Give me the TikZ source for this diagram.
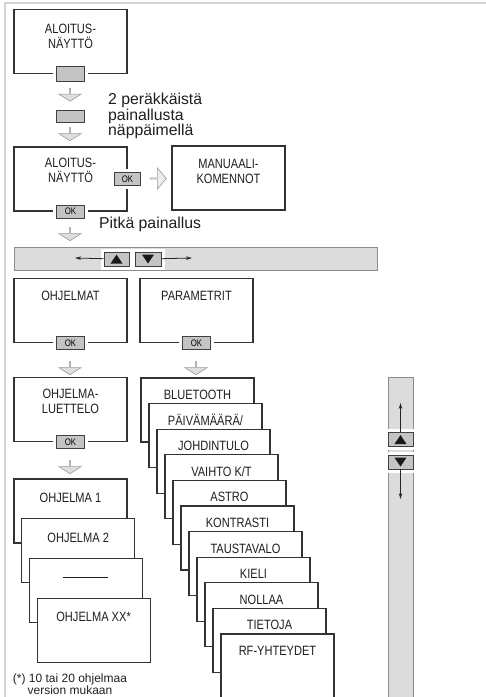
\documentclass[tikz,border=0pt]{standalone}
\usepackage{fontspec}
\setmainfont{Liberation Sans}
\newfontfamily\condfont[FakeStretch=0.82]{Liberation Sans}
\usetikzlibrary{shapes.arrows, arrows.meta, positioning, calc}

\definecolor{barfill}{HTML}{DCDCDD}
\definecolor{keyfill}{HTML}{C4C4C4}
\definecolor{edge}{HTML}{333333}
\definecolor{framegray}{HTML}{D4D4D4}

\begin{document}
\begin{tikzpicture}[x=1pt, y=-1pt,
  screen/.style={draw=edge, line width=1.1pt, fill=white, minimum width=113pt, minimum height=64pt, inner sep=0pt},
  lbl/.style={font=\condfont\fontsize{13.5}{15}\selectfont, align=center, inner sep=0pt, text=black!88, anchor=north},
  key/.style={draw=black!75, fill=keyfill, line width=0.8pt, minimum width=28pt, minimum height=13pt, inner sep=0pt,
    font=\condfont\fontsize{9.5}{9.5}\selectfont, preaction={draw=white, line width=7pt}},
  navkey/.style={key, minimum width=25pt, minimum height=14pt, preaction={draw=white, line width=5pt}},
  upkey/.style={navkey, path picture={\fill[black!90] ($(path picture bounding box.center)+(-6,4.5)$) -- ++(12,0) -- ++(-6,-9) -- cycle;}},
  downkey/.style={navkey, path picture={\fill[black!90] ($(path picture bounding box.center)+(-6,-4.5)$) -- ++(12,0) -- ++(-6,9) -- cycle;}},
  blockdown/.style={single arrow, draw=black!40, fill=black!13, line width=0.6pt, minimum width=22pt, minimum height=13pt,
    single arrow head extend=5pt, single arrow head indent=0pt, single arrow tip angle=115, inner sep=0pt, shape border rotate=270},
  blockright/.style={blockdown, fill=black!7, minimum width=21pt, minimum height=16pt, single arrow tip angle=100, shape border rotate=0},
  bar/.style={draw=black!45, fill=barfill, line width=0.8pt, inner sep=0pt},
  nav/.style={-{Stealth[length=6pt, width=3.5pt]}, line width=0.8pt, black!85},
  note/.style={font=\fontsize{15.8}{15.5}\selectfont, align=left, inner sep=0pt, text=black!88}]
\useasboundingbox (0,0) rectangle (486,697);

% frame of the page
\draw[framegray, line width=2pt] (5,697) -- (5,3) -- (486,3);

% start screen and double press
\node[screen] (home) at (70.5,41.5) {};
\node[lbl, below=14.5pt of home.north] (homelbl) {ALOITUS-\\NÄYTTÖ};
\node[key, minimum height=15pt] (k1) at (home.south) {};
\node[blockdown] (a1) at (70,94.5) {};
\node[key, minimum height=12pt] (k2) at (70,116) {};
\node[note, anchor=west] (twice) at (108,116) {2 peräkkäistä\\painallusta\\näppäimellä};
\node[blockdown] (a2) at (70,134) {};

% start screen, manual commands
\node[screen] (home2) at (70.5,179) {};
\node[lbl, below=11pt of home2.north] (home2lbl) {ALOITUS-\\NÄYTTÖ};
\node[key, minimum width=26pt] (ok1) at (home2.east) {OK};
\node[key] (ok2) at (home2.south) {OK};
\node[blockright] (a3) at (158,178.5) {};
\node[screen] (manual) at (228.5,178) {};
\node[lbl, below=14pt of manual.north] (manuallbl) {MANUAALI-\\KOMENNOT};
\node[note, anchor=west] (long) at (99,224) {Pitkä painallus};
\node[blockdown] (a4) at (70,234) {};

% navigation bar
\node[bar, minimum width=363pt, minimum height=23pt] (hbar) at (195.5,258.5) {};
\node[upkey] (up) at (116.5,259) {};
\node[downkey, minimum width=26pt] (down) at (148,259) {};
\coordinate (left) at (75,258);
\coordinate (right) at (192,258);
\draw[nav] (up) -- (left);
\draw[nav] (down) -- (right);

% menus
\node[screen] (prog) at (70.5,310.5) {};
\node[lbl, below=13pt of prog.north] (proglbl) {OHJELMAT};
\node[key] (ok3) at (prog.south) {OK};
\node[screen] (param) at (196.5,310.5) {};
\node[lbl, below=13pt of param.north] (paramlbl) {PARAMETRIT};
\node[key] (ok4) at (param.south) {OK};
\node[blockdown] (a5) at (70,368) {};
\node[blockdown] (a6) at (196,368) {};

% program list
\node[screen] (list) at (70.5,409.5) {};
\node[lbl, below=12pt of list.north] (listlbl) {OHJELMA-\\LUETTELO};
\node[key] (ok5) at (list.south) {OK};
\node[blockdown] (a7) at (70,467) {};

\foreach \i/\name in {0/OHJELMA 1, 1/OHJELMA 2, 2/{\rule[4.5pt]{45pt}{0.8pt}}, 3/OHJELMA XX*} {
    \pgfmathsetmacro\x{70.5+7.7*\i}
    \pgfmathsetmacro\y{511+39.7*\i}
    \node[screen] (p\i) at (\x,\y) {};
    \node[lbl, anchor=base] (pl\i) at ($(p\i.north)+(0,24)$) {\name};
}

% parameter list
\foreach \name [count=\i from 0] in {BLUETOOTH, PÄIVÄMÄÄRÄ/, JOHDINTULO, VAIHTO K/T, ASTRO, KONTRASTI,
    TAUSTAVALO, KIELI, NOLLAA, TIETOJA, RF-YHTEYDET} {
    \pgfmathsetmacro\x{197.5+8*\i}
    \pgfmathsetmacro\y{410+25.6*\i}
    \node[screen] (s\i) at (\x,\y) {};
    \node[lbl, anchor=base] (sl\i) at ($(s\i.north)+(0,22)$) {\name};
}

% vertical scroll bar
\node[bar, minimum width=25pt, minimum height=330pt] (vbar) at (400.5,542) {};
\node[upkey] (vup) at (400.5,439.5) {};
\node[downkey] (vdown) at (400.5,462) {};
\coordinate (top) at (400.5,403);
\coordinate (bottom) at (400.5,499);
\draw[nav] (vup) -- (top);
\draw[nav] (vdown) -- (bottom);

% footnote
\node[align=center, inner sep=0pt, font=\fontsize{12}{11}\selectfont, text=black!88] (foot) at (70,684.5)
    {(*) 10 tai 20 ohjelmaa\\version mukaan};
\end{tikzpicture}
\end{document}
